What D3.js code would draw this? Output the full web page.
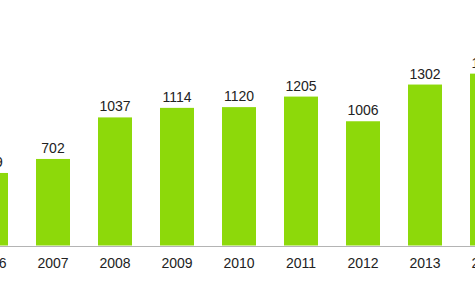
<!DOCTYPE html>
<html>
<head>
<meta charset="utf-8">
<script src="https://cdn.jsdelivr.net/npm/d3@7"></script>
<style>
  body { margin: 0; background: #fff; overflow: hidden; }
  text { font-family: "Liberation Sans", Arial, sans-serif; }
</style>
</head>
<body>
<script>
const years = ["2006", "2007", "2008", "2009", "2010", "2011", "2012", "2013", "2014"];
const values = [589, 702, 1037, 1114, 1120, 1205, 1006, 1302, 1390];

let width = 475;
let height = 297;
let baseY = 246;

let svg = d3.select("body").append("svg")
  .attr("width", width)
  .attr("height", height);

// bands are wider than the window, the chart is cropped on both sides
let xScale = d3.scaleBand()
  .domain(years)
  .range([-40, 518])
  .paddingInner(0.4516)
  .paddingOuter(0.2258);

let yScale = d3.scaleLinear()
  .domain([0, 2000])
  .range([baseY, -2]);

let xAxis = d3.axisBottom(xScale).tickSize(0).tickSizeOuter(0).tickPadding(12);

svg.append("g")
  .attr("transform", `translate(0, ${baseY})`)
  .call(xAxis)
  .call(g => g.select(".domain").attr("stroke", "#b4b4b4"))
  .call(g => g.selectAll("text")
    .attr("font-size", 14)
    .attr("font-family", "Liberation Sans, Arial, sans-serif")
    .attr("fill", "#222"));

svg.append("g")
  .selectAll("rect")
  .data(values)
  .join("rect")
  .attr("x", (d, i) => xScale(years[i]))
  .attr("width", xScale.bandwidth())
  .attr("y", d => yScale(d))
  .attr("height", d => baseY - yScale(d) - 0.5)
  .attr("fill", "#8dd90a");

svg.append("g")
  .selectAll("text")
  .data(values)
  .join("text")
  .attr("x", (d, i) => xScale(years[i]) + xScale.bandwidth() / 2)
  .attr("y", d => yScale(d) - 6)
  .attr("text-anchor", "middle")
  .attr("font-size", 14)
  .attr("fill", "#222")
  .text(d => d);
</script>
</body>
</html>
